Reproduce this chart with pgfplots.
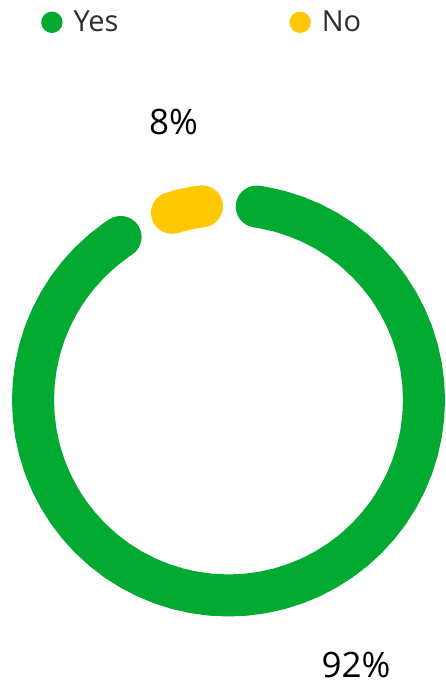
\documentclass[border=0pt]{standalone}
\usepackage{pgfplots}
\pgfplotsset{compat=1.18}
\usepackage{fontspec}
\setmainfont{Open Sans}
\definecolor{ygreen}{RGB}{3,170,50}
\definecolor{nyellow}{RGB}{255,200,0}
\definecolor{legtext}{RGB}{45,45,50}
\begin{document}
\begin{tikzpicture}
\begin{axis}[
  x=1bp, y=1bp,
  xmin=-228.5, xmax=216.5, ymin=-284, ymax=400,
  hide axis, clip=false,
  legend columns=2,
  legend style={at={(axis cs:-187.5,377.7)}, anchor=west, draw=none, fill=none,
    font=\fontsize{29bp}{32bp}\selectfont\color{legtext}, inner sep=0pt,
    /tikz/every odd column/.append style={column sep=9bp},
    /tikz/every even column/.append style={column sep=169bp}},
  legend image code/.code={\fill[#1, draw=none] (0bp,0bp) circle (10.7bp);},
]
\path (axis cs:-228.5,-284) rectangle (axis cs:216.5,400);
% Yes: 92%
\addplot[color=ygreen, line width=42bp, line cap=round, line join=round, data cs=polar]
coordinates {
(-236.5,195.5) (-235,195.5) (-230,195.5) (-225,195.5) (-220,195.5) (-215,195.5)
(-210,195.5) (-205,195.5) (-200,195.5) (-195,195.5) (-190,195.5) (-185,195.5)
(-180,195.5) (-175,195.5) (-170,195.5) (-165,195.5) (-160,195.5) (-155,195.5)
(-150,195.5) (-145,195.5) (-140,195.5) (-135,195.5) (-130,195.5) (-125,195.5)
(-120,195.5) (-115,195.5) (-110,195.5) (-105,195.5) (-100,195.5) (-95,195.5)
(-90,195.5) (-85,195.5) (-80,195.5) (-75,195.5) (-70,195.5) (-65,195.5)
(-60,195.5) (-55,195.5) (-50,195.5) (-45,195.5) (-40,195.5) (-35,195.5)
(-30,195.5) (-25,195.5) (-20,195.5) (-15,195.5) (-10,195.5) (-5,195.5)
(0,195.5) (5,195.5) (10,195.5) (15,195.5) (20,195.5) (25,195.5)
(30,195.5) (35,195.5) (40,195.5) (45,195.5) (50,195.5) (55,195.5)
(60,195.5) (65,195.5) (70,195.5) (75,195.5) (80,195.5) (81.7,195.5)
};
\addlegendentry{Yes}
% No: 8%
\addplot[color=nyellow, line width=42bp, line cap=round, line join=round, data cs=polar]
coordinates {
(97.8,195.5) (100,195.5) (102.5,195.5) (105,195.5) (106.8,195.5)
};
\addlegendentry{No}
\node[anchor=base, font=\fontsize{35bp}{40bp}\selectfont] at (axis cs:-55,265) {8\%};
\node[anchor=base, inner sep=0pt, font=\fontsize{35bp}{40bp}\selectfont] at (axis cs:127.5,-278) {92\%};
\end{axis}
\end{tikzpicture}
\end{document}
